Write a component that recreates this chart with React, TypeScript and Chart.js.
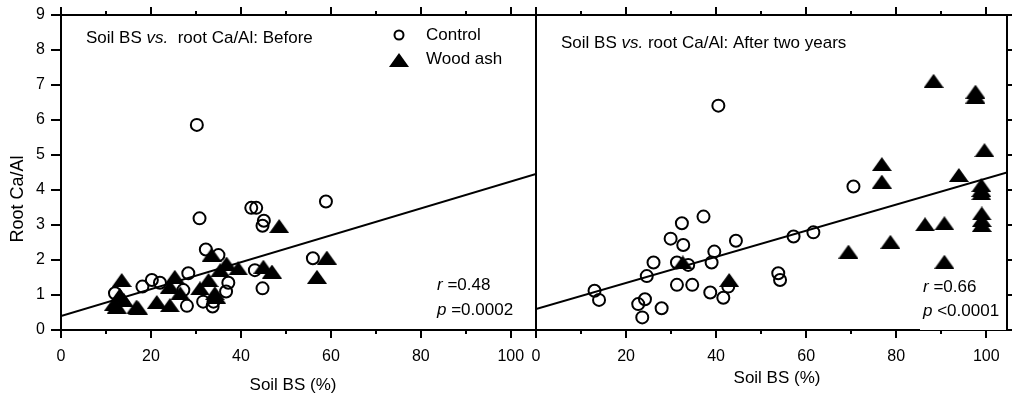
import React, { useEffect, useRef } from "react";
import { Chart, registerables } from "chart.js";
Chart.register(...registerables);

// ---------- data ----------
const beforeControlX = [30.2, 30.8, 42.3, 43.4, 45.1, 44.8, 32.2, 35.0, 43.1, 44.8, 20.2, 22.0, 18.1, 12.0, 28.0, 28.3, 31.6, 33.7, 37.2, 36.7, 27.2, 58.9, 56.0, 33.9];
const beforeControlY = [5.86, 3.19, 3.49, 3.49, 3.12, 2.98, 2.30, 2.14, 1.71, 1.19, 1.43, 1.35, 1.24, 1.05, 0.69, 1.62, 0.81, 0.67, 1.35, 1.10, 1.14, 3.67, 2.05, 0.81];
const beforeAshX = [48.5, 33.5, 36.8, 39.4, 45.0, 46.9, 35.4, 32.8, 30.9, 34.2, 25.3, 24.2, 26.5, 13.5, 13.1, 11.8, 14.0, 16.8, 21.3, 24.2, 12.4, 17.2, 59.1, 56.9, 34.5];
const beforeAshY = [2.97, 2.15, 1.90, 1.76, 1.81, 1.67, 1.71, 1.43, 1.19, 1.05, 1.52, 1.24, 1.05, 1.43, 1.00, 0.75, 0.85, 0.67, 0.80, 0.71, 0.67, 0.62, 2.07, 1.52, 0.95];
const beforeFitX = [0, 105.6];
const beforeFitY = [0.4, 4.46];

const afterControlX = [40.5, 32.4, 37.2, 29.9, 32.7, 44.4, 39.6, 26.1, 24.6, 31.3, 33.8, 39.0, 31.3, 34.7, 38.7, 41.6, 42.7, 13.0, 14.0, 22.7, 24.2, 23.6, 27.9, 53.8, 54.2, 70.5, 57.2, 61.6];
const afterControlY = [6.41, 3.05, 3.24, 2.61, 2.43, 2.55, 2.24, 1.93, 1.54, 1.93, 1.86, 1.93, 1.29, 1.29, 1.07, 0.92, 1.24, 1.12, 0.86, 0.74, 0.88, 0.36, 0.62, 1.62, 1.43, 4.10, 2.67, 2.79];
const afterAshX = [32.6, 42.9, 88.3, 97.6, 97.6, 99.6, 76.8, 76.8, 93.9, 98.9, 98.9, 98.9, 86.4, 90.7, 99.0, 99.0, 99.0, 78.7, 69.4, 90.7];
const afterAshY = [1.93, 1.43, 7.12, 6.81, 6.67, 5.14, 4.74, 4.24, 4.43, 4.14, 4.00, 3.91, 3.02, 3.05, 3.33, 3.14, 3.00, 2.52, 2.24, 1.95];
const afterFitX = [0, 104.6];
const afterFitY = [0.6, 4.5];

const xMajorStep = 20;
const xMinorStep = 10;
const yMin = 0;
const yMax = 9;
const yStep = 1;

const seriesNames = ["Control", "Wood ash"];
const titleBefore: [string, boolean][] = [["Soil BS ", false], ["vs.", true], ["  root Ca/Al: Before", false]];
const titleAfter: [string, boolean][] = [["Soil BS ", false], ["vs.", true], [" root Ca/Al: After two years", false]];
const statsBefore: [string, boolean][][] = [[["r", true], [" =0.48", false]], [["p", true], [" =0.0002", false]]];
const statsAfter: [string, boolean][][] = [[["r", true], [" =0.66", false]], [["p", true], [" <0.0001", false]]];
const xTitle = "Soil BS (%)";
const yTitle = "Root Ca/Al";

const FONT = "'Liberation Sans', Arial, Helvetica, sans-serif";

function makeTriangle(): HTMLCanvasElement {
  const c = document.createElement("canvas");
  c.width = 20;
  c.height = 14;
  const g = c.getContext("2d")!;
  g.fillStyle = "#000";
  g.beginPath();
  g.moveTo(10, 0);
  g.lineTo(20, 14);
  g.lineTo(0, 14);
  g.closePath();
  g.fill();
  return c;
}

function pts(xs: number[], ys: number[]) {
  return xs.map((x, i) => ({ x, y: ys[i] }));
}

function drawRich(ctx: CanvasRenderingContext2D, x: number, y: number, parts: [string, boolean][], size: number) {
  let cx = x;
  ctx.textBaseline = "middle";
  ctx.textAlign = "left";
  for (const [t, it] of parts) {
    ctx.font = `${it ? "italic " : ""}${size}px ${FONT}`;
    ctx.fillText(t, cx, y);
    cx += ctx.measureText(t).width;
  }
}

function zeroPad(s: any) {
  s.paddingLeft = 0;
  s.paddingRight = 0;
  s.paddingTop = 0;
  s.paddingBottom = 0;
}

type PanelOpts = {
  xMax: number;
  ctrlX: number[]; ctrlY: number[];
  ashX: number[]; ashY: number[];
  fitX: number[]; fitY: number[];
  title: [string, boolean][];
  titlePos: [number, number];
  stats: [string, boolean][][];
  statsPos: [number, number, number];
  legend: boolean;
  ySide: "left" | "right";
  whiteBox: boolean;
  xTitleX: number;
  xTitleY: number;
  padding: { left: number; right: number; top: number; bottom: number };
};

function makeConfig(o: PanelOpts, tri: HTMLCanvasElement): any {
  const framePlugin = {
    id: "frame",
    afterDatasetsDraw(chart: any) {
      const ctx: CanvasRenderingContext2D = chart.ctx;
      const xs = chart.scales.x;
      const ys = chart.scales.y;
      const { left, right, top, bottom } = chart.chartArea;
      ctx.save();
      ctx.strokeStyle = "#000";
      ctx.fillStyle = "#000";
      ctx.lineWidth = 2;
      ctx.strokeRect(left, top, right - left, bottom - top);
      ctx.beginPath();
      for (let v = 0; v <= o.xMax + 1e-6; v += xMinorStep) {
        const px = Math.round(xs.getPixelForValue(v));
        const len = v % xMajorStep === 0 ? 8 : 4;
        ctx.moveTo(px, bottom);
        ctx.lineTo(px, bottom + len);
        ctx.moveTo(px, top);
        ctx.lineTo(px, top - len);
      }
      for (let v = yMin; v <= yMax; v += yStep) {
        const py = Math.round(ys.getPixelForValue(v));
        if (o.ySide === "left") {
          ctx.moveTo(left - 10, py);
          ctx.lineTo(left, py);
        } else {
          ctx.moveTo(right, py);
          ctx.lineTo(right + 6, py);
        }
      }
      ctx.stroke();

      if (o.whiteBox) {
        ctx.fillStyle = "#fff";
        ctx.fillRect(o.statsPos[0] - 3, o.statsPos[1] - 12, right - o.statsPos[0] + 2, bottom - (o.statsPos[1] - 12));
        ctx.fillStyle = "#000";
      }

      drawRich(ctx, o.titlePos[0], o.titlePos[1], o.title, 17);
      drawRich(ctx, o.statsPos[0], o.statsPos[1], o.stats[0], 17);
      drawRich(ctx, o.statsPos[0], o.statsPos[2], o.stats[1], 17);

      if (o.legend) {
        ctx.lineWidth = 2;
        ctx.beginPath();
        ctx.arc(399, 35, 4.5, 0, Math.PI * 2);
        ctx.stroke();
        ctx.drawImage(tri, 389, 53);
        ctx.font = `17px ${FONT}`;
        ctx.textBaseline = "middle";
        ctx.fillText(seriesNames[0], 426, 35);
        ctx.fillText(seriesNames[1], 426, 59);
      }

      ctx.font = `17px ${FONT}`;
      ctx.textAlign = "center";
      ctx.textBaseline = "middle";
      ctx.fillText(xTitle, o.xTitleX, o.xTitleY);

      if (o.ySide === "left") {
        ctx.save();
        ctx.translate(18, 199);
        ctx.rotate(-Math.PI / 2);
        ctx.font = `18px ${FONT}`;
        ctx.fillText(yTitle, 0, 0);
        ctx.restore();
      }
      ctx.restore();
    },
  };

  const showY = o.ySide === "left";

  return {
    type: "scatter",
    data: {
      datasets: [
        {
          label: seriesNames[0],
          data: pts(o.ctrlX, o.ctrlY),
          pointStyle: "circle",
          pointRadius: 6,
          pointHoverRadius: 6,
          borderWidth: 2,
          borderColor: "#000",
          backgroundColor: "rgba(0,0,0,0)",
          order: 2,
        },
        {
          label: seriesNames[1],
          data: pts(o.ashX, o.ashY),
          pointStyle: tri,
          pointRadius: 10,
          borderColor: "#000",
          backgroundColor: "#000",
          order: 1,
        },
        {
          type: "line",
          label: "fit",
          data: pts(o.fitX, o.fitY),
          borderColor: "#000",
          borderWidth: 2,
          pointRadius: 0,
          fill: false,
          order: 3,
        },
      ],
    },
    options: {
      animation: false,
      responsive: false,
      events: [],
      layout: { padding: o.padding, autoPadding: false },
      plugins: { legend: { display: false }, tooltip: { enabled: false } },
      scales: {
        x: {
          type: "linear",
          position: "bottom",
          min: 0,
          max: o.xMax,
          afterFit: (s: any) => { s.height = 70; zeroPad(s); },
          grid: { display: false, drawTicks: false },
          border: { display: false },
          ticks: {
            stepSize: xMajorStep,
            includeBounds: false,
            color: "#000",
            font: { family: FONT, size: 16 },
            padding: 17,
            maxRotation: 0,
          },
        },
        y: {
          type: "linear",
          position: "left",
          min: yMin,
          max: yMax,
          display: showY,
          afterFit: (s: any) => { s.width = showY ? 61 : 0; zeroPad(s); },
          grid: { display: false, drawTicks: false },
          border: { display: false },
          ticks: {
            stepSize: yStep,
            color: "#000",
            font: { family: FONT, size: 16 },
            padding: 16,
          },
        },
      },
    },
    plugins: [framePlugin],
  };
}

function Panel({ opts, left, width }: { opts: PanelOpts; left: number; width: number }) {
  const ref = useRef<HTMLCanvasElement>(null);
  useEffect(() => {
    const tri = makeTriangle();
    const chart = new Chart(ref.current!, makeConfig(opts, tri));
    return () => chart.destroy();
  }, []);
  return (
    <canvas
      ref={ref}
      width={width}
      height={400}
      style={{ position: "absolute", left, top: 0, width, height: 400 }}
    />
  );
}

export default function App() {
  const beforeOpts: PanelOpts = {
    xMax: 105.6,
    ctrlX: beforeControlX, ctrlY: beforeControlY,
    ashX: beforeAshX, ashY: beforeAshY,
    fitX: beforeFitX, fitY: beforeFitY,
    title: titleBefore,
    titlePos: [86, 38],
    stats: statsBefore,
    statsPos: [437, 285, 310],
    legend: true,
    ySide: "left",
    whiteBox: false,
    xTitleX: 293,
    xTitleY: 385,
    padding: { left: 0, right: 4, top: 15, bottom: 0 },
  };
  const afterOpts: PanelOpts = {
    xMax: 104.6,
    ctrlX: afterControlX, ctrlY: afterControlY,
    ashX: afterAshX, ashY: afterAshY,
    fitX: afterFitX, fitY: afterFitY,
    title: titleAfter,
    titlePos: [561 - 500, 43],
    stats: statsAfter,
    statsPos: [923 - 500, 287, 311],
    legend: false,
    ySide: "right",
    whiteBox: true,
    xTitleX: 777 - 500,
    xTitleY: 378,
    padding: { left: 36, right: 5, top: 15, bottom: 0 },
  };
  return (
    <div style={{ position: "absolute", left: 0, top: 0, width: 1012, height: 400, background: "#fff", overflow: "hidden" }}>
      <Panel opts={beforeOpts} left={0} width={540} />
      <Panel opts={afterOpts} left={500} width={512} />
    </div>
  );
}
